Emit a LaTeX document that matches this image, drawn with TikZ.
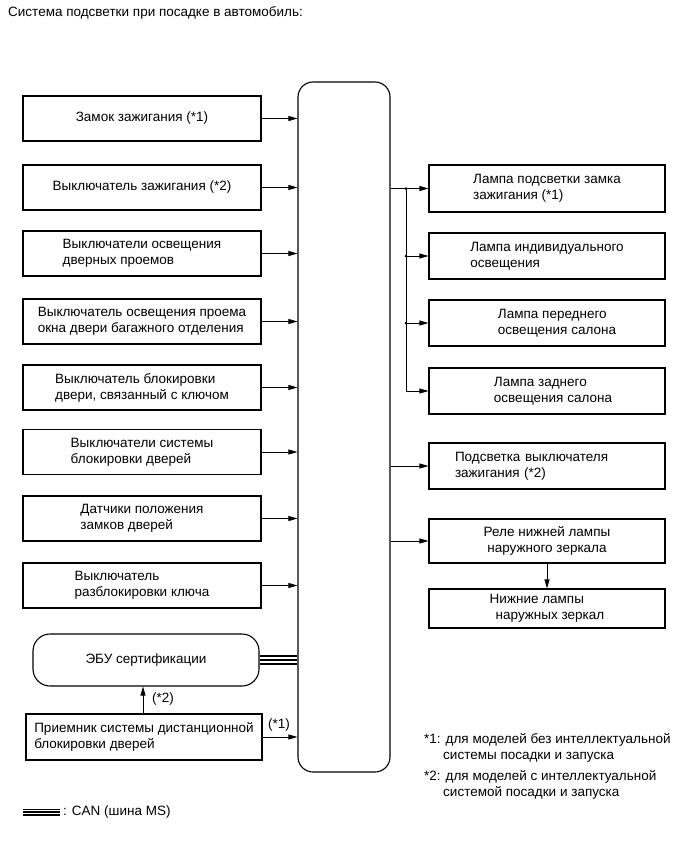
\documentclass[tikz,border=0pt]{standalone}
\usepackage{fontspec}
\setmainfont{Liberation Sans}
\usetikzlibrary{arrows.meta,calc}
\begin{document}
\begin{tikzpicture}[x=1pt,y=-1pt,
  font=\fontsize{13.5}{16}\selectfont,
  box/.style={draw, line width=1.1pt, minimum width=238pt, minimum height=45pt, align=left, inner sep=0pt},
  rbox/.style={draw, line width=1.1pt, minimum width=236pt, align=left, inner sep=0pt},
  arr/.style={line width=0.8pt, -{Triangle[length=9pt,width=5pt]}},
  txt/.style={inner sep=0pt, align=left},
  canouter/.style={line width=9.3pt},
  caninner/.style={white, line width=6.7pt},
  canmid/.style={line width=1.3pt}]
\useasboundingbox (0,0) rectangle (691,855);
\node[txt, anchor=west] (title) at (8,13) {Система подсветки при посадке в автомобиль:};
% central unit
\node[draw, line width=1.1pt, rounded corners=15pt, minimum width=92pt, minimum height=690pt, inner sep=0pt] (bcm) at (344,427) {};
% left inputs
\node[box] (l1) at (142,118.5) {Замок зажигания (*1)};
\node[box] (l2) at (142,187.5) {Выключатель зажигания (*2)};
\node[box] (l3) at (142,253.5) {Выключатели освещения\\дверных проемов};
\node[box] (l4) at (142,321.5) {Выключатель освещения проема\\окна двери багажного отделения};
\node[box] (l5) at (142,387.5) {Выключатель блокировки\\двери, связанный с ключом};
\node[box] (l6) at (142,452) {Выключатели системы\\блокировки дверей};
\node[box] (l7) at (142,518.5) {Датчики положения\\замков дверей};
\node[box] (l8) at (142,585.5) {Выключатель\\разблокировки ключа};
\foreach \i in {1,...,8} \draw[arr] (l\i.east) -- (l\i.east -| bcm.west);
% ECU and receiver
\node[draw, line width=1.1pt, rounded corners=17pt, minimum width=226pt, minimum height=52pt, inner sep=0pt] (ecu) at (146,660) {ЭБУ сертификации};
\node[box, minimum width=236pt, minimum height=46pt] (rx) at (144,737) {Приемник системы дистанционной\\блокировки дверей};
\coordinate (ux) at (143,0);
\draw[arr] (rx.north -| ux) -- (ecu.south -| ux);
\node[txt] (s2) at (163,699) {(*2)};
\draw[arr] (rx.east) -- (rx.east -| bcm.west);
\node[txt] (s1) at (279,725) {(*1)};
\coordinate (c1) at ($(ecu.east)+(0.6,0)$);
\coordinate (c2) at ($(ecu.east -| bcm.west)+(-0.6,0)$);
\draw[canouter] (c1) -- (c2);
\draw[caninner] (c1) -- (c2);
\draw[canmid] (c1) -- (c2);
% right outputs
\node[rbox, minimum height=47pt] (r1) at (547,188.5) {Лампа подсветки замка\\зажигания (*1)};
\node[rbox, minimum height=46pt] (r2) at (547,256) {Лампа индивидуального\\освещения};
\node[rbox, minimum height=46pt] (r3) at (547,323) {\hspace*{20pt}Лампа переднего\\\hspace*{20pt}освещения салона};
\node[rbox, minimum height=46pt] (r4) at (547,391) {\hspace*{12pt}Лампа заднего\\\hspace*{12pt}освещения салона};
\node[rbox, minimum height=46pt, text width=184pt] (r5) at (547,466) {Подсветка выключателя\\зажигания (*2)};
\node[rbox, minimum height=44pt, align=center] (r6) at (547,541) {Реле нижней лампы\\наружного зеркала};
\node[rbox, minimum height=39pt] (r7) at (547,608.5) {Нижние лампы\\\hspace*{6pt}наружных зеркал};
\coordinate (jx) at (406,0);
\draw[arr] (bcm.east |- r1.west) -- (r1.west);
\draw[arr] (jx |- r1.west) -- (jx |- r4.west) -- (r4.west);
\draw[arr] (jx |- r2.west) -- (r2.west);
\draw[arr] (jx |- r3.west) -- (r3.west);
\foreach \i in {1,2,3} \fill (jx |- r\i.west) circle (1.5pt);
\draw[arr] (bcm.east |- r5.west) -- (r5.west);
\draw[arr] (bcm.east |- r6.west) -- (r6.west);
\draw[arr] (r6.south) -- (r7.north);
% notes
\node[txt, anchor=north west] (n1) at (424,733) {*1: для моделей без интеллектуальной\\\hspace*{19pt}системы посадки и запуска};
\node[txt, anchor=north west] (n2) at (424,770) {*2: для моделей с интеллектуальной\\\hspace*{19pt}системой посадки и запуска};
% CAN legend
\coordinate (k1) at (23,812);
\coordinate (k2) at (60,812);
\draw[line width=7pt] (k1) -- (k2);
\draw[white, line width=4.6pt] (k1) -- (k2);
\draw[line width=1.2pt] (k1) -- (k2);
\node[txt, anchor=west] (cantext) at (63,812) {: CAN (шина MS)};
\end{tikzpicture}
\end{document}
